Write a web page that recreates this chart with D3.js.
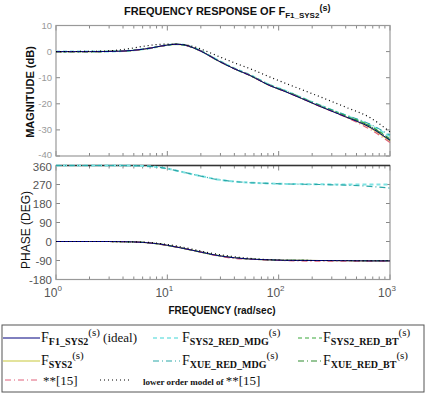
<!DOCTYPE html>
<html lang="en">
<head>
<meta charset="UTF-8">
<title>Frequency response</title>
<style>
    body { margin: 0; background: #fff; }
    svg text { font-family: Arial, "Liberation Sans", sans-serif; }
</style>
</head>
<body>
<div id="content"></div>
<script src="https://d3js.org/d3.v7.min.js"></script>
<script>
    // frequencies (rad/sec) at which the curves were read
    var freq = [1, 2, 3, 4, 5, 6, 7, 8, 10, 12, 14, 17, 20, 28, 40, 55, 84, 110, 235, 400, 662, 1000];

    // magnitude (dB)
    var magIdeal    = [0, 0, 0.05, 0.2, 0.5, 0.9, 1.3, 1.8, 2.5, 2.8, 2.6, 1.5, 0.2, -3.3, -6.6, -9.1, -13.1, -15.0, -21.0, -25.0, -29.0, -34.0];
    var magSys2     = [0, 0, 0.05, 0.2, 0.5, 0.9, 1.3, 1.8, 2.5, 2.8, 2.6, 1.5, 0.2, -3.3, -6.6, -9.1, -13.1, -15.0, -21.0, -25.0, -29.2, -34.3];
    var magSys2Mdg  = [0, 0, 0.05, 0.2, 0.5, 0.9, 1.3, 1.8, 2.5, 2.8, 2.6, 1.6, 0.3, -3.1, -6.4, -8.9, -12.8, -14.7, -20.6, -24.5, -28.2, -32.5];
    var magSys2Bt   = [0, 0, 0.05, 0.2, 0.5, 0.9, 1.3, 1.8, 2.5, 2.8, 2.6, 1.5, 0.2, -3.3, -6.6, -9.1, -13.0, -14.9, -20.8, -24.7, -28.5, -33.5];
    var magXueMdg   = [0, 0, 0.05, 0.2, 0.5, 0.9, 1.3, 1.8, 2.5, 2.8, 2.6, 1.6, 0.3, -3.1, -6.4, -8.9, -12.8, -14.7, -20.5, -24.3, -27.8, -32.0];
    var magXueBt    = [0, 0, 0.05, 0.2, 0.5, 0.9, 1.3, 1.8, 2.5, 2.8, 2.6, 1.5, 0.2, -3.3, -6.6, -9.1, -13.0, -14.9, -20.8, -24.8, -28.6, -33.8];
    var magRef15    = [0, 0, 0.05, 0.2, 0.5, 0.9, 1.3, 1.8, 2.5, 2.8, 2.6, 1.5, 0.2, -3.3, -6.6, -9.1, -13.1, -15.0, -21.0, -25.1, -29.8, -34.8];
    var magLowOrder = [0, 0.1, 0.3, 0.8, 1.4, 2.0, 2.4, 2.7, 2.9, 2.9, 2.7, 2.0, 1.0, -1.6, -4.3, -6.5, -9.8, -11.8, -17.3, -21.3, -25.3, -30.8];

    // phase (deg)
    var phIdeal    = [0, 0, 0, -1, -2, -4, -7, -10, -18, -26, -33, -42, -50, -66, -77, -83, -87, -89, -90, -91, -92, -92];
    var phSys2     = [0, 0, 0, -1, -2, -4, -7, -10, -18, -26, -33, -42, -50, -66, -77, -83, -87, -89, -90, -91, -92, -92];
    var phSys2Mdg  = [360, 360, 360, 360, 359, 358, 356, 353, 345, 336, 328, 318, 310, 294, 284, 279, 275, 273, 271, 270, 270, 270];
    var phSys2Bt   = [0, 0, 0, -1, -2, -4, -7, -10, -18, -26, -33, -42, -50, -66, -77, -83, -87, -89, -90, -90, -91, -91];
    var phXueMdg   = [360, 360, 360, 360, 359, 358, 356, 353, 345, 336, 328, 318, 310, 294, 284, 279, 275, 273, 270, 267, 261, 253];
    var phXueBt    = [0, 0, 0, -1, -2, -4, -7, -10, -18, -26, -33, -42, -50, -66, -77, -83, -87, -89, -90, -90, -91, -91];
    var phRef15    = [0, 0, 0, -1, -2, -4, -7, -10, -18, -26, -33, -42, -50, -67, -80, -84, -88, -90, -93, -93, -93, -93];
    var phLowOrder = [0, 0, 0, -1, -2, -3, -5, -8, -14, -21, -28, -37, -45, -60, -72, -80, -86, -88, -90, -90, -91, -91];

    var decades = [1, 10, 100, 1000];
    var decadeLabels = ["0", "1", "2", "3"];
    var magTicks = [10, 0, -10, -20, -30, -40];
    var phTicks = [360, 270, 180, 90, 0, -90, -180];

    var series = [
        {mag: magSys2, ph: phSys2, color: "#c8c83a", dash: null, w: 1.2, sub: "SYS2", extra: ""},
        {mag: magSys2Mdg, ph: phSys2Mdg, color: "#7fe3e3", dash: "4,3", w: 2, sub: "SYS2_RED_MDG", extra: ""},
        {mag: magXueMdg, ph: phXueMdg, color: "#2aa8a8", dash: "6,3,1,3", w: 1.2, sub: "XUE_RED_MDG", extra: ""},
        {mag: magSys2Bt, ph: phSys2Bt, color: "#3aa83a", dash: "4,3", w: 1.2, sub: "SYS2_RED_BT", extra: ""},
        {mag: magXueBt, ph: phXueBt, color: "#2e8b2e", dash: "6,3,1,3", w: 1.2, sub: "XUE_RED_BT", extra: ""},
        {mag: magRef15, ph: phRef15, color: "#e0607a", dash: "6,3,1,3", w: 1.2},
        {mag: magIdeal, ph: phIdeal, color: "#00007f", dash: null, w: 1, sub: "F1_SYS2", extra: "  (ideal)"},
        {mag: magLowOrder, ph: phLowOrder, color: "#000", dash: "1,3", w: 1.2}
    ];

    var width = 430, height = 396;
    var svg = d3.select("#content").append("svg")
        .attr("width", width)
        .attr("height", height);

    var x = d3.scaleLog().domain([1, 1000]).range([56, 390]);
    var yMag = d3.scaleLinear().domain([-40, 10]).range([156, 25.5]);
    var yPh = d3.scaleLinear().domain([-180, 360]).range([279.5, 165.5]);

    function panel(yScale, ticks, tickSize, tickColor, topColor, nudge) {
        var g = svg.append("g");
        var y0 = yScale.range()[0], y1 = yScale.range()[1];
        // minor / major x ticks, top and bottom, inside
        x.ticks().forEach(function (t) {
            var major = decades.indexOf(t) >= 0;
            var len = major ? 5 : 3;
            g.append("line").attr("x1", x(t)).attr("x2", x(t))
                .attr("y1", y0).attr("y2", y0 - len).attr("stroke", "#888");
            g.append("line").attr("x1", x(t)).attr("x2", x(t))
                .attr("y1", y1).attr("y2", y1 + len).attr("stroke", "#888");
        });
        ticks.forEach(function (t) {
            g.append("line").attr("x1", 56).attr("x2", 60)
                .attr("y1", yScale(t)).attr("y2", yScale(t)).attr("stroke", "#888");
            g.append("line").attr("x1", 390).attr("x2", 386)
                .attr("y1", yScale(t)).attr("y2", yScale(t)).attr("stroke", "#888");
            g.append("text").attr("x", 52).attr("y", yScale(t) + tickSize * 0.36 + (nudge[t] || 0))
                .attr("text-anchor", "end")
                .style("font-size", tickSize + "px")
                .style("fill", tickColor)
                .text(t);
        });
        g.append("rect").attr("x", 56).attr("y", y1)
            .attr("width", 334).attr("height", y0 - y1)
            .attr("fill", "none").attr("stroke", "#999").attr("stroke-width", 1.2);
        if (topColor) {
            g.append("line").attr("x1", 56).attr("x2", 390)
                .attr("y1", y1).attr("y2", y1)
                .attr("stroke", topColor).attr("stroke-width", 1.5);
        }
    }

    panel(yMag, magTicks, 9.5, "#999", null, {"-40": -1.5});
    panel(yPh, phTicks, 11.5, "#555", "#333", {"360": 1});

    function drawCurves(key, yScale) {
        var line = d3.line()
            .curve(d3.curveMonotoneX)
            .x(function (d) { return x(d[0]); })
            .y(function (d) { return yScale(d[1]); });
        series.forEach(function (s) {
            var pts = freq.map(function (f, i) { return [f, s[key][i]]; });
            svg.append("path")
                .datum(pts)
                .attr("d", line)
                .attr("fill", "none")
                .attr("stroke", s.color)
                .attr("stroke-width", s.w)
                .attr("stroke-dasharray", s.dash);
        });
    }
    drawCurves("mag", yMag);
    drawCurves("ph", yPh);

    // x tick labels 10^n
    decades.forEach(function (d, i) {
        var t = svg.append("text").attr("x", x(d) - 3).attr("y", 297)
            .attr("text-anchor", "middle")
            .style("font-size", "12px").style("fill", "#555");
        t.append("tspan").text("10");
        t.append("tspan").attr("dy", -6).style("font-size", "8px").text(decadeLabels[i]);
    });

    // title
    var title = svg.append("text").attr("x", 124).attr("y", 15)
        .style("font-size", "11px").style("font-weight", "bold").style("fill", "#111");
    title.append("tspan").text("FREQUENCY RESPONSE OF F");
    title.append("tspan").attr("dy", 3).style("font-size", "8px").text("F1_SYS2");
    title.append("tspan").attr("dy", -7).style("font-size", "9px").text("(s)");

    svg.append("text")
        .attr("transform", "translate(34,92) rotate(-90)")
        .attr("text-anchor", "middle")
        .style("font-size", "11px").style("font-weight", "bold").style("fill", "#111")
        .text("MAGNITUDE (dB)");
    svg.append("text")
        .attr("transform", "translate(30,230) rotate(-90)")
        .attr("text-anchor", "middle")
        .style("font-size", "12px").style("fill", "#111")
        .text("PHASE (DEG)");
    svg.append("text").attr("x", 222).attr("y", 314)
        .attr("text-anchor", "middle")
        .style("font-size", "10px").style("font-weight", "bold").style("fill", "#111")
        .text("FREQUENCY  (rad/sec)");

    // legend
    var lg = svg.append("g");
    lg.append("rect").attr("x", 2).attr("y", 325).attr("width", 422).attr("height", 67)
        .attr("fill", "#fff").attr("stroke", "#555").attr("stroke-width", 1);

    function legendItem(s, x1, x2, y, tx) {
        lg.append("line").attr("x1", x1).attr("x2", x2).attr("y1", y).attr("y2", y)
            .attr("stroke", s.color).attr("stroke-width", s.w > 1.5 ? 1.5 : s.w)
            .attr("stroke-dasharray", s.dash);
        var t = lg.append("text").attr("x", tx).attr("y", y + 4)
            .style("font-family", "'Liberation Serif', 'Times New Roman', serif")
            .style("font-size", "14px").style("fill", "#111");
        t.append("tspan").text("F");
        t.append("tspan").attr("dy", 3).style("font-size", "10px").style("font-weight", "bold").text(s.sub);
        t.append("tspan").attr("dy", -9).style("font-size", "11px").text("(s)");
        if (s.extra) t.append("tspan").attr("dy", 6).style("font-size", "13px").text(s.extra);
    }

    legendItem(series[6], 3, 40, 338, 41);
    legendItem(series[1], 153, 180, 338, 182);
    legendItem(series[3], 298, 322, 338, 323);
    legendItem(series[0], 3, 40, 361, 41);
    legendItem(series[2], 153, 180, 361, 182);
    legendItem(series[4], 298, 322, 361, 323);

    lg.append("line").attr("x1", 5).attr("x2", 40).attr("y1", 380).attr("y2", 380)
        .attr("stroke", series[5].color).attr("stroke-dasharray", series[5].dash);
    lg.append("text").attr("x", 43).attr("y", 385)
        .style("font-family", "'Liberation Serif', serif").style("font-size", "13px").style("fill", "#111")
        .text("**[15]");
    lg.append("line").attr("x1", 100).attr("x2", 130).attr("y1", 380).attr("y2", 380)
        .attr("stroke", "#000").attr("stroke-dasharray", "1,3");
    var lo = lg.append("text").attr("x", 143).attr("y", 385)
        .style("font-family", "'Liberation Serif', serif").style("fill", "#111");
    lo.append("tspan").style("font-size", "9px").style("font-weight", "bold").text("lower order model of ");
    lo.append("tspan").style("font-size", "13px").text("**[15]");
</script>
</body>
</html>
